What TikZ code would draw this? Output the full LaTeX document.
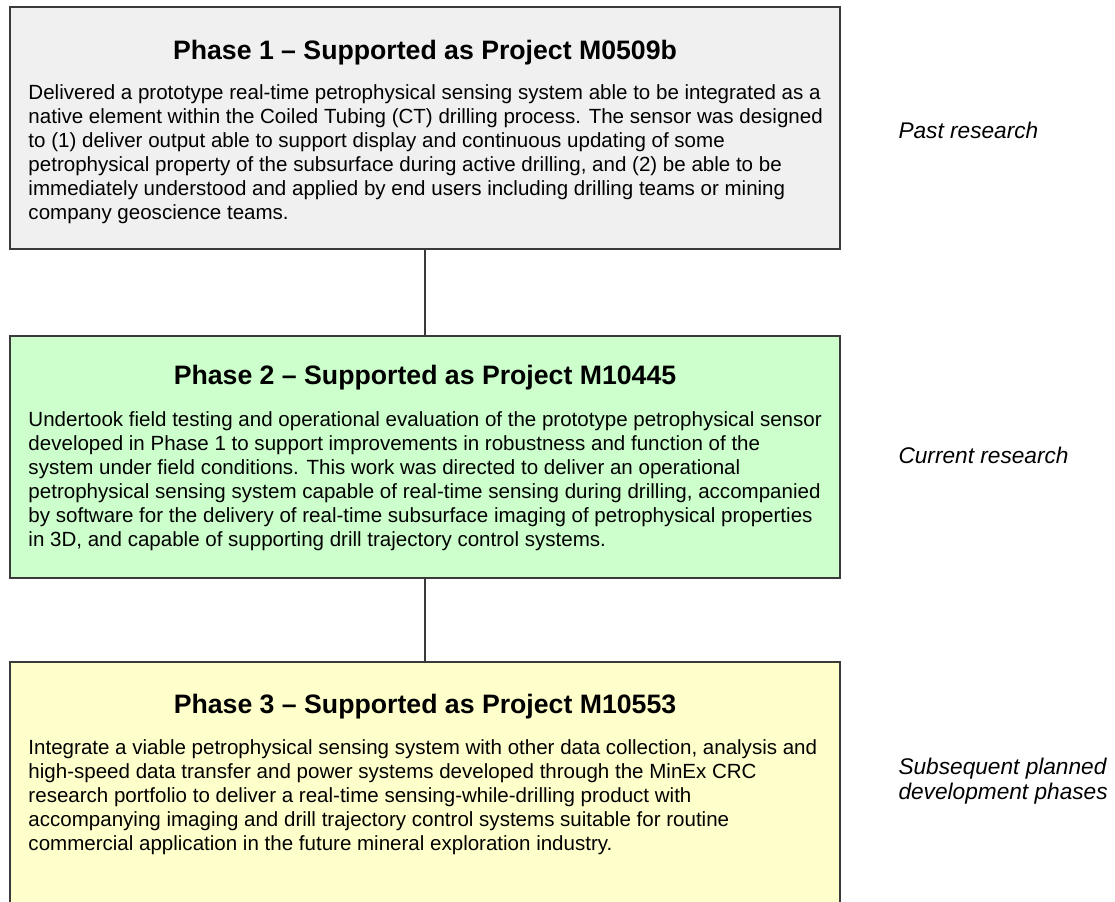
\documentclass[tikz,border=0pt]{standalone}
\usepackage{fontspec}
\setmainfont{Liberation Sans}
\usetikzlibrary{positioning}

\definecolor{pastgray}{HTML}{F0F0F0}
\definecolor{nowgreen}{HTML}{CCFFCC}
\definecolor{nextyellow}{HTML}{FFFFCC}
\definecolor{edgegray}{HTML}{3A3A3A}

\tikzset{every picture/.style={line width=0.75pt}}
\tikzset{
  phasebox/.style={draw=edgegray, line width=1.1pt, rectangle, minimum width=622.5pt, minimum height=181.5pt, inner sep=0},
  phasetitle/.style={font=\bfseries\fontsize{20}{24}\selectfont, inner sep=0},
  phasebody/.style={font=\fontsize{15.4}{18}\selectfont, align=left, anchor=north west, inner sep=0},
  sidenote/.style={font=\itshape\fontsize{17}{19}\selectfont, align=left, anchor=west, inner sep=0},
  link/.style={draw=edgegray, line width=1.1pt}
}

\begin{document}
\begin{tikzpicture}[x=0.75pt,y=0.75pt,yscale=-1,xscale=1]
\useasboundingbox (0,0) rectangle (1115,901);
\clip (0,0) rectangle (1115,901);

% Phase 1
\node [phasebox, fill=pastgray] (phase1) at (425,128) {};
\node [phasetitle] (title1) at (425,53) {Phase 1 -- Supported as Project M0509b};
\node [phasebody] (body1) at (28,84) {Delivered a prototype real-time petrophysical sensing system able to be integrated as a\\
native element within the Coiled Tubing (CT) drilling process. The sensor was designed\\
to (1) deliver output able to support display and continuous updating of some\\
petrophysical property of the subsurface during active drilling, and (2) be able to be\\
immediately understood and applied by end users including drilling teams or mining\\
company geoscience teams.};

% Phase 2
\node [phasebox, fill=nowgreen] (phase2) at (425,457) {};
\node [phasetitle] (title2) at (425,378) {Phase 2 -- Supported as Project M10445};
\node [phasebody] (body2) at (28,411) {Undertook field testing and operational evaluation of the prototype petrophysical sensor\\
developed in Phase 1 to support improvements in robustness and function of the\\
system under field conditions. This work was directed to deliver an operational\\
petrophysical sensing system capable of real-time sensing during drilling, accompanied\\
by software for the delivery of real-time subsurface imaging of petrophysical properties\\
in 3D, and capable of supporting drill trajectory control systems.};

% Phase 3
\node [phasebox, fill=nextyellow] (phase3) at (425,783) {};
\node [phasetitle] (title3) at (425,707) {Phase 3 -- Supported as Project M10553};
\node [phasebody] (body3) at (28,739) {Integrate a viable petrophysical sensing system with other data collection, analysis and\\
high-speed data transfer and power systems developed through the MinEx CRC\\
research portfolio to deliver a real-time sensing-while-drilling product with\\
accompanying imaging and drill trajectory control systems suitable for routine\\
commercial application in the future mineral exploration industry.};

% Connection
\draw [link] (phase1.south) -- (phase2.north);
% Connection
\draw [link] (phase2.south) -- (phase3.north);

% Side notes
\node [sidenote] (past) at (898,130) {Past research};
\node [sidenote] (current) at (898,455) {Current research};
\node [sidenote] (later) at (898,781) {Subsequent planned\\development phases};

\end{tikzpicture}
\end{document}
